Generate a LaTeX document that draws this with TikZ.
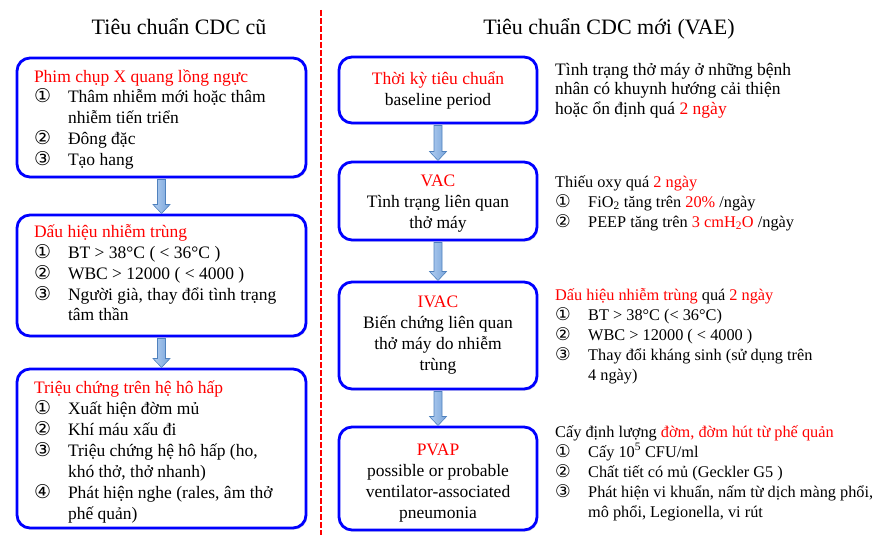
\documentclass[tikz,border=0pt]{standalone}
\usepackage{fontspec}
\setmainfont{Liberation Serif}
\newfontfamily\numfont{DejaVu Sans}
\usepackage{xcolor}
\usetikzlibrary{calc}
\usetikzlibrary{positioning,shadows}
\definecolor{boxblue}{RGB}{0,0,255}
\definecolor{arrowlight}{RGB}{178,206,240}
\definecolor{arrowfill}{RGB}{120,164,218}
\definecolor{arrowedge}{RGB}{79,129,189}
\lineskiplimit=-100pt
\newcommand{\nm}[1]{\makebox[34pt][l]{{\numfont\fontsize{19}{19}\selectfont #1}}}
\newcommand{\ct}{\hspace*{34pt}}
\newcommand{\nmr}[1]{\makebox[33pt][l]{{\numfont\fontsize{17.5}{17.5}\selectfont #1}}}
\newcommand{\ctr}{\hspace*{33pt}}
\newcommand{\rd}[1]{\textcolor{red}{#1}}
\newcommand{\flowarrow}[2]{%
\path[flowarr] ($(#1.south)+(-4,2.5)$) -- ($(#2.north)+(-4,-10.5)$)
 -- ($(#2.north)+(-8.5,-10.5)$) -- ($(#2.north)+(0,-1.5)$)
 -- ($(#2.north)+(8.5,-10.5)$) -- ($(#2.north)+(4,-10.5)$)
 -- ($(#1.south)+(4,2.5)$) -- cycle;}

\begin{document}
\begin{tikzpicture}[x=1pt, y=-1pt,
  oldbox/.style={draw=boxblue, line width=2.8pt, rounded corners=13pt, fill=white,
    inner xsep=17pt, inner ysep=0pt, outer sep=0pt,
    drop shadow={shadow xshift=1.2pt, shadow yshift=-1.6pt, opacity=0.3},
    font=\fontsize{17.5}{20.8}\selectfont},
  newbox/.style={oldbox, inner xsep=5pt, font=\fontsize{17.5}{21}\selectfont},
  bigtext/.style={anchor=base west, inner sep=0pt, font=\fontsize{17.5}{19.7}\selectfont},
  sidetext/.style={anchor=base west, inner sep=0pt, font=\fontsize{16.3}{20}\selectfont},
  headline/.style={anchor=base, inner sep=0pt, font=\fontsize{22}{26}\selectfont},
  flowarr/.style={left color=arrowlight, right color=arrowfill, draw=arrowedge, line width=0.6pt},
  sepline/.style={draw=red, line width=1.3pt, dash pattern=on 6pt off 2pt}]
\useasboundingbox (0,0) rectangle (896,535);

\draw[sepline] (321,10) -- (321,535);

\node[headline] (oldtitle) at (179,35) {Tiêu chuẩn CDC cũ};
\node[headline] (newtitle) at (609,35) {Tiêu chuẩn CDC mới (VAE)};

\node[oldbox] (xray) at (161.5,117.5) {\parbox[c][119pt][t]{255pt}{\raggedright
\rule{0pt}{24pt}\rd{Phim chụp X quang lồng ngực}\\
\nm{①}Thâm nhiễm mới hoặc thâm\\
\ct nhiễm tiến triển\\
\nm{②}Đông đặc\\
\nm{③}Tạo hang}};
\node[oldbox] (infect) at (161.5,275.5) {\parbox[c][121pt][t]{255pt}{\raggedright
\rule{0pt}{22.7pt}\rd{Dấu hiệu nhiễm trùng}\\
\nm{①}BT > 38°C ( < 36°C )\\
\nm{②}WBC > 12000 ( < 4000 )\\
\nm{③}Người già, thay đổi tình trạng\\
\ct tâm thần}};
\node[oldbox, font=\fontsize{17.5}{21}\selectfont] (resp) at (161.5,448.5) {\parbox[c][159pt][t]{255pt}{\raggedright
\rule{0pt}{24pt}\rd{Triệu chứng trên hệ hô hấp}\\
\nm{①}Xuất hiện đờm mủ\\
\nm{②}Khí máu xấu đi\\
\nm{③}Triệu chứng hệ hô hấp (ho,\\
\ct khó thở, thở nhanh)\\
\nm{④}Phát hiện nghe (rales, âm thở\\
\ct phế quản)}};

\node[newbox] (baseline) at (438,90) {\parbox[c][66pt][t]{188pt}{\centering
\rule{0pt}{27pt}\rd{Thời kỳ tiêu chuẩn}\\
baseline period}};
\node[newbox] (vac) at (438,201) {\parbox[c][78pt][t]{188pt}{\centering
\rule{0pt}{24pt}\rd{VAC}\\
Tình trạng liên quan\\
thở máy}};
\node[newbox] (ivac) at (438,335.5) {\parbox[c][107pt][t]{188pt}{\centering
\rule{0pt}{25pt}\rd{IVAC}\\
Biến chứng liên quan\\
thở máy do nhiễm\\
trùng}};
\node[newbox] (pvap) at (438,478.5) {\parbox[c][103pt][t]{188pt}{\centering
\rule{0pt}{28pt}\rd{PVAP}\\
possible or probable\\
ventilator-associated\\
pneumonia}};

\node[bigtext] (stable) at (555,75) {\parbox[t]{330pt}{\raggedright
Tình trạng thở máy ở những bệnh\\
nhân có khuynh hướng cải thiện\\
hoặc ổn định quá \rd{2 ngày}}};
\node[sidetext] (oxy) at (555,187) {\parbox[t]{330pt}{\raggedright
Thiếu oxy quá \rd{2 ngày}\\
\nmr{①}FiO\textsubscript{2} tăng trên \rd{20\%} /ngày\\
\nmr{②}PEEP tăng trên \rd{3 cmH\textsubscript{2}O} /ngày}};
\node[sidetext] (signs) at (555,300) {\parbox[t]{330pt}{\raggedright
\rd{Dấu hiệu nhiễm trùng} quá \rd{2 ngày}\\
\nmr{①}BT > 38°C (< 36°C)\\
\nmr{②}WBC > 12000 ( < 4000 )\\
\nmr{③}Thay đổi kháng sinh (sử dụng trên\\
\ctr 4 ngày)}};
\node[sidetext] (culture) at (555,437) {\parbox[t]{335pt}{\raggedright
Cấy định lượng \rd{đờm, đờm hút từ phế quản}\\
\nmr{①}Cấy 10\textsuperscript{5} CFU/ml\\
\nmr{②}Chất tiết có mủ (Geckler G5 )\\
\nmr{③}Phát hiện vi khuẩn, nấm từ dịch màng phổi,\\
\ctr mô phổi, Legionella, vi rút}};

\flowarrow{xray}{infect}
\flowarrow{infect}{resp}
\flowarrow{baseline}{vac}
\flowarrow{vac}{ivac}
\flowarrow{ivac}{pvap}
\end{tikzpicture}
\end{document}
